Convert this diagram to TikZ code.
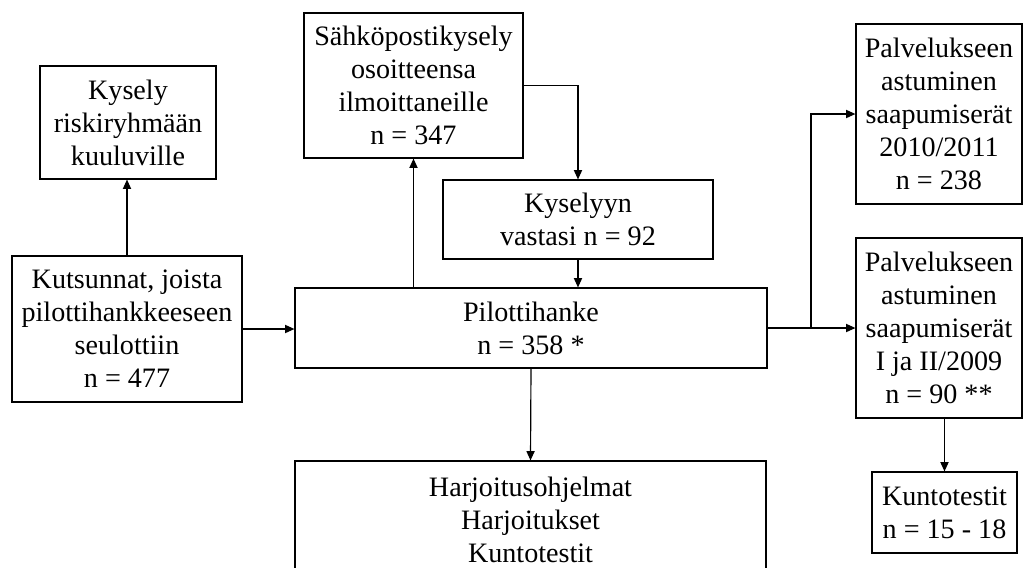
\documentclass[tikz,border=0pt]{standalone}
\usepackage{fontspec}
\setmainfont{Liberation Serif}
\usetikzlibrary{arrows.meta}
\begin{document}
\begin{tikzpicture}[x=0.015cm, y=-0.015cm,
  laatikko/.style={draw, line width=0.5pt, align=center, inner sep=0pt,
    font=\fontsize{12}{14.1}\selectfont},
  nuoli/.style={-{Triangle[length=4pt,width=3.5pt]}, line width=0.5pt}]
\useasboundingbox (0,0) rectangle (1023,567);

\node[laatikko, minimum width=2.64cm, minimum height=1.695cm] (kysely) at (128,122.5)
  {Kysely\\riskiryhmään\\kuuluville};
\node[laatikko, minimum width=3.45cm, minimum height=2.19cm] (kutsunnat) at (127,329)
  {Kutsunnat, joista\\pilottihankkeeseen\\seulottiin\\n = 477};
\node[laatikko, minimum width=3.285cm, minimum height=2.175cm] (sahkoposti) at (413.5,85.5)
  {Sähköpostikysely\\osoitteensa\\ilmoittaneille\\n = 347};
\node[laatikko, minimum width=4.05cm, minimum height=1.185cm] (vastasi) at (578,219.5)
  {Kyselyyn\\vastasi n = 92};
\node[laatikko, minimum width=7.08cm, minimum height=1.2cm] (pilotti) at (531,328)
  {Pilottihanke\\n = 358 *};
\node[laatikko, minimum width=7.065cm, minimum height=1.77cm] (harjoitus) at (530.5,520)
  {Harjoitusohjelmat\\Harjoitukset\\Kuntotestit};
\node[laatikko, minimum width=2.49cm, minimum height=2.7cm] (saapuminen1) at (939,114)
  {Palvelukseen\\astuminen\\saapumiserät\\2010/2011\\n = 238};
\node[laatikko, minimum width=2.49cm, minimum height=2.7cm] (saapuminen2) at (939,328)
  {Palvelukseen\\astuminen\\saapumiserät\\I ja II/2009\\n = 90 **};
\node[laatikko, minimum width=2.175cm, minimum height=1.215cm] (kuntotestit) at (944.5,512.5)
  {Kuntotestit\\n = 15 - 18};

% yhteydet
\coordinate (haara) at (811,328);
\draw[nuoli] (kutsunnat.north) -- (kutsunnat.north |- kysely.south);
\draw[nuoli] (kutsunnat.east) -- (kutsunnat.east -| pilotti.west);
\draw[nuoli] (sahkoposti.south |- pilotti.north) -- (sahkoposti.south);
\draw[nuoli] (sahkoposti.east) -| (vastasi.north);
\draw[nuoli] (vastasi.south) -- (vastasi.south |- pilotti.north);
\draw[nuoli] (pilotti.south) -- (harjoitus.north);
\draw[nuoli] (pilotti.east) -- (saapuminen2.west);
\draw[nuoli] (haara) |- (saapuminen1.west);
\draw[nuoli] (kuntotestit.north |- saapuminen2.south) -- (kuntotestit.north);
\end{tikzpicture}
\end{document}
